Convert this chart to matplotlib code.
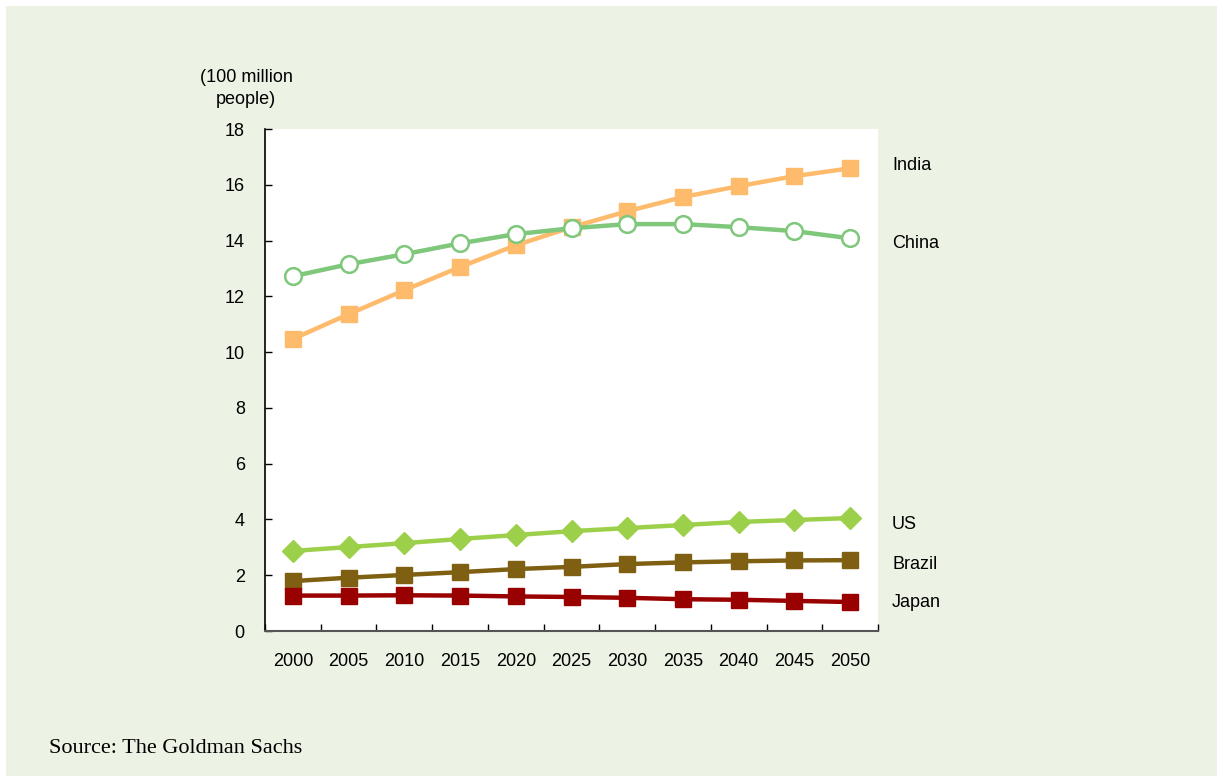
import matplotlib.pyplot as plt
import numpy as np
from matplotlib.patches import Rectangle

years = ['2000', '2005', '2010', '2015', '2020', '2025', '2030', '2035', '2040', '2045', '2050']
india = [10.47, 11.36, 12.22, 13.05, 13.83, 14.48, 15.05, 15.56, 15.95, 16.31, 16.59]
china = [12.72, 13.15, 13.51, 13.90, 14.23, 14.44, 14.59, 14.59, 14.48, 14.34, 14.08]
us = [2.87, 3.01, 3.15, 3.30, 3.44, 3.58, 3.69, 3.80, 3.91, 3.98, 4.05]
brazil = [1.79, 1.91, 2.01, 2.11, 2.22, 2.30, 2.40, 2.46, 2.50, 2.53, 2.54]
japan = [1.27, 1.27, 1.28, 1.27, 1.24, 1.22, 1.19, 1.14, 1.12, 1.08, 1.04]
names = ['India', 'China', 'US', 'Brazil', 'Japan']

W, H = 1223, 782
bg = '#ecf2e4'
plt.rcParams['font.family'] = ['Liberation Sans', 'DejaVu Sans']

fig = plt.figure(figsize=(W / 100, H / 100), dpi=100)
fig.patch.set_facecolor('white')
# light green panel with a thin white frame
fig.patches.append(Rectangle((6/W, 6/H), 1 - 12/W, 1 - 12/H,
                             transform=fig.transFigure, facecolor=bg, edgecolor='none', zorder=-10))

ax = fig.add_axes([265/W, 1 - 631/H, 613/W, 502/H])
ax.set_facecolor('white')

x = np.arange(len(years))
lw = 3.2
ax.plot(x, india, color='#fdbb6b', lw=lw, marker='s', ms=12, mec='#fdbb6b', mfc='#fdbb6b', zorder=3)
ax.plot(x, china, color='#7ec77b', lw=lw, marker='o', ms=12, mec='#7ec77b', mfc='white', mew=1.8, zorder=4)
ax.plot(x, us, color='#9dd04a', lw=lw, marker='D', ms=11, mec='#9dd04a', mfc='#9dd04a', zorder=3)
ax.plot(x, brazil, color='#7f6012', lw=lw, marker='s', ms=12, mec='#7f6012', mfc='#7f6012', zorder=3)
ax.plot(x, japan, color='#990000', lw=lw, marker='s', ms=12, mec='#990000', mfc='#990000', zorder=3)

ax.set_xlim(-0.5, len(years) - 0.5)
ax.set_ylim(0, 18)
ax.set_yticks(range(0, 19, 2))
ax.tick_params(axis='y', direction='in', length=5, width=1, labelsize=13, pad=14.5)
ax.set_xticks(x)
ax.set_xticklabels(years)
ax.set_xticks(np.arange(-0.5, len(years)), minor=True)
ax.tick_params(axis='x', which='major', length=0, labelsize=13, pad=15.5)
ax.tick_params(axis='x', which='minor', direction='in', length=5, width=1)

for s in ['top', 'right']:
    ax.spines[s].set_visible(False)
ax.spines['left'].set_linewidth(1.2)
ax.spines['bottom'].set_linewidth(1.5)
ax.spines['bottom'].set_color('#555555')

# series names on the right (baselines in pixels)
label_base = [170, 248, 529, 569, 607]
for n, yb in zip(names, label_base):
    fig.text(892/W, 1 - yb/H, n, fontsize=13, va='baseline', ha='left')

fig.text(246/W, 1 - 82/H, '(100 million', ha='center', va='baseline', fontsize=13)
fig.text(246/W, 1 - 104/H, 'people)', ha='center', va='baseline', fontsize=13)
fig.text(49/W, 1 - 753/H, 'Source: The Goldman Sachs', ha='left', va='baseline',
         fontsize=16, family=['Liberation Serif', 'DejaVu Serif'])

fig.savefig('out.png', dpi=100, facecolor=fig.get_facecolor())
